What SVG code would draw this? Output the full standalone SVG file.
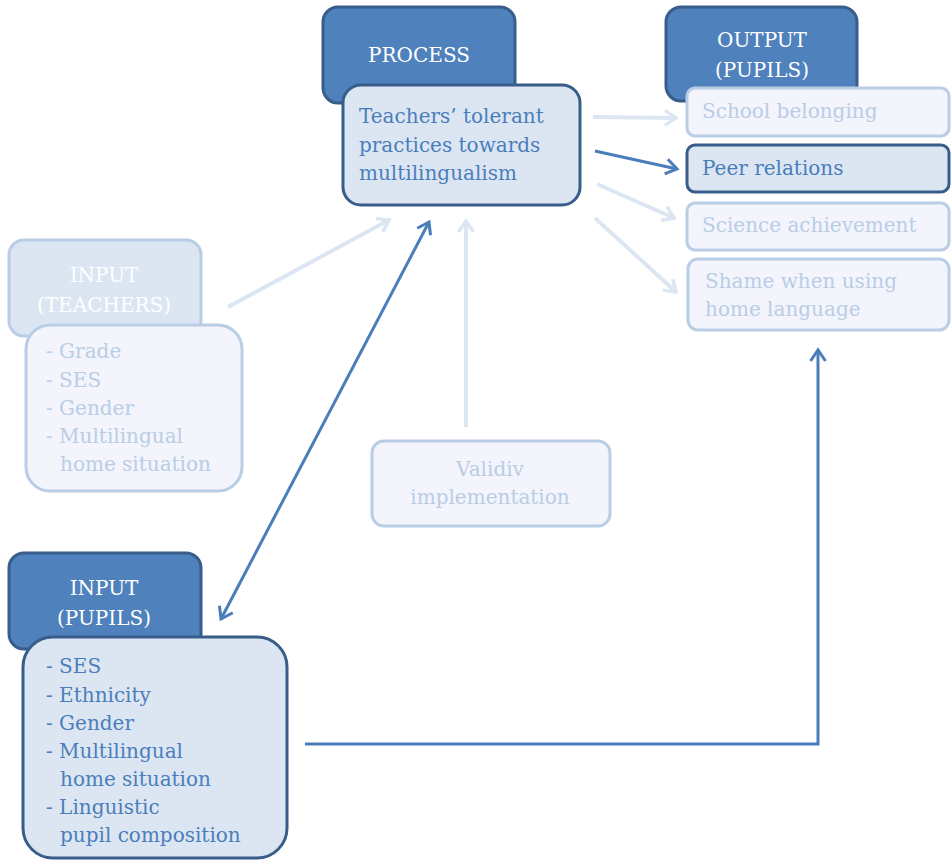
<svg xmlns="http://www.w3.org/2000/svg" width="952" height="861" viewBox="0 0 952 861">
<style>
text{font-family:"DejaVu Serif","Liberation Serif",serif;font-size:20px}
.hdr{fill:#4F81BD;stroke:#385D8A;stroke-width:3}
.body{fill:#DCE6F2;stroke:#385D8A;stroke-width:3}
.ghdr{fill:#DCE6F2;stroke:#B9CDE5;stroke-width:3}
.ghost{fill:#F3F4FC;stroke:#B9CDE5;stroke-width:3}
.wt{fill:#FFFFFF;text-anchor:middle}
.dt{fill:#4A7EBB}
.gt{fill:#B9CDE5}
.gtc{fill:#B9CDE5;text-anchor:middle}
.dark{stroke:#4A7EBB;stroke-width:3;fill:none}
.light{stroke:#DCE6F2;stroke-width:4;fill:none}
</style>
<defs>
<marker id="ad" markerUnits="userSpaceOnUse" markerWidth="20" markerHeight="20" viewBox="0 0 20 20" refX="16" refY="10" orient="auto-start-reverse">
<path d="M5,2.5 L16,10 L5,17.5" fill="none" stroke="#4A7EBB" stroke-width="3" stroke-linejoin="miter"/>
</marker>
<marker id="al" markerUnits="userSpaceOnUse" markerWidth="20" markerHeight="20" viewBox="0 0 20 20" refX="16" refY="10" orient="auto">
<path d="M5,2.5 L16,10 L5,17.5" fill="none" stroke="#DCE6F2" stroke-width="3.5" stroke-linejoin="miter"/>
</marker>
</defs>

<g id="connectors">
<line class="light" x1="228" y1="307" x2="389" y2="220" marker-end="url(#al)"/>
<line class="light" x1="466" y1="427" x2="466" y2="221" marker-end="url(#al)"/>
<line class="dark" x1="429" y1="222" x2="221" y2="619" marker-start="url(#ad)" marker-end="url(#ad)"/>
<line class="light" x1="593" y1="117" x2="676" y2="118" marker-end="url(#al)"/>
<line class="dark" x1="595" y1="151" x2="677" y2="169" marker-end="url(#ad)"/>
<line class="light" x1="597" y1="184" x2="674" y2="218" marker-end="url(#al)"/>
<line class="light" x1="595" y1="218" x2="676" y2="292" marker-end="url(#al)"/>
<polyline class="dark" points="305,744 818,744 818,350" marker-end="url(#ad)"/>
</g>

<g id="process">
<rect class="hdr" x="323" y="7" width="192" height="96" rx="15"/>
<text class="wt" x="419" y="62">PROCESS</text>
<rect class="body" x="343" y="85" width="237" height="120" rx="18"/>
<text class="dt" x="359" y="123">Teachers’ tolerant</text>
<text class="dt" x="359" y="152">practices towards</text>
<text class="dt" x="359" y="180">multilingualism</text>
</g>

<g id="output">
<rect class="hdr" x="666" y="7" width="191" height="94" rx="15"/>
<text class="wt" x="762" y="47">OUTPUT</text>
<text class="wt" x="762" y="77">(PUPILS)</text>
</g>

<g id="school-belonging">
<rect class="ghost" x="687" y="88" width="262" height="48" rx="8"/>
<text class="gt" x="702" y="118">School belonging</text>
</g>

<g id="peer-relations">
<rect class="body" x="687" y="145" width="262" height="47" rx="8"/>
<text class="dt" x="702" y="175">Peer relations</text>
</g>

<g id="science-achievement">
<rect class="ghost" x="687" y="203" width="262" height="47" rx="8"/>
<text class="gt" x="702" y="232">Science achievement</text>
</g>

<g id="shame">
<rect class="ghost" x="688" y="259" width="261" height="71" rx="10"/>
<text class="gt" x="705" y="288">Shame when using</text>
<text class="gt" x="705" y="316">home language</text>
</g>

<g id="input-teachers">
<rect class="ghdr" x="9" y="240" width="192" height="96" rx="15"/>
<text class="wt" x="104" y="282">INPUT</text>
<text class="wt" x="104" y="312">(TEACHERS)</text>
<rect class="ghost" x="26" y="325" width="216" height="166" rx="24"/>
<text class="gt" x="46" y="358">- Grade</text>
<text class="gt" x="46" y="387">- SES</text>
<text class="gt" x="46" y="415">- Gender</text>
<text class="gt" x="46" y="443">- Multilingual</text>
<text class="gt" x="60" y="471">home situation</text>
</g>

<g id="validiv">
<rect class="ghost" x="372" y="441" width="238" height="85" rx="12"/>
<text class="gtc" x="490" y="476">Validiv</text>
<text class="gtc" x="490" y="504">implementation</text>
</g>

<g id="input-pupils">
<rect class="hdr" x="9" y="553" width="192" height="96" rx="15"/>
<text class="wt" x="104" y="595">INPUT</text>
<text class="wt" x="104" y="625">(PUPILS)</text>
<rect class="body" x="23" y="637" width="264" height="221" rx="30"/>
<text class="dt" x="46" y="673">- SES</text>
<text class="dt" x="46" y="702">- Ethnicity</text>
<text class="dt" x="46" y="730">- Gender</text>
<text class="dt" x="46" y="758">- Multilingual</text>
<text class="dt" x="60" y="786">home situation</text>
<text class="dt" x="46" y="814">- Linguistic</text>
<text class="dt" x="60" y="842">pupil composition</text>
</g>
</svg>
